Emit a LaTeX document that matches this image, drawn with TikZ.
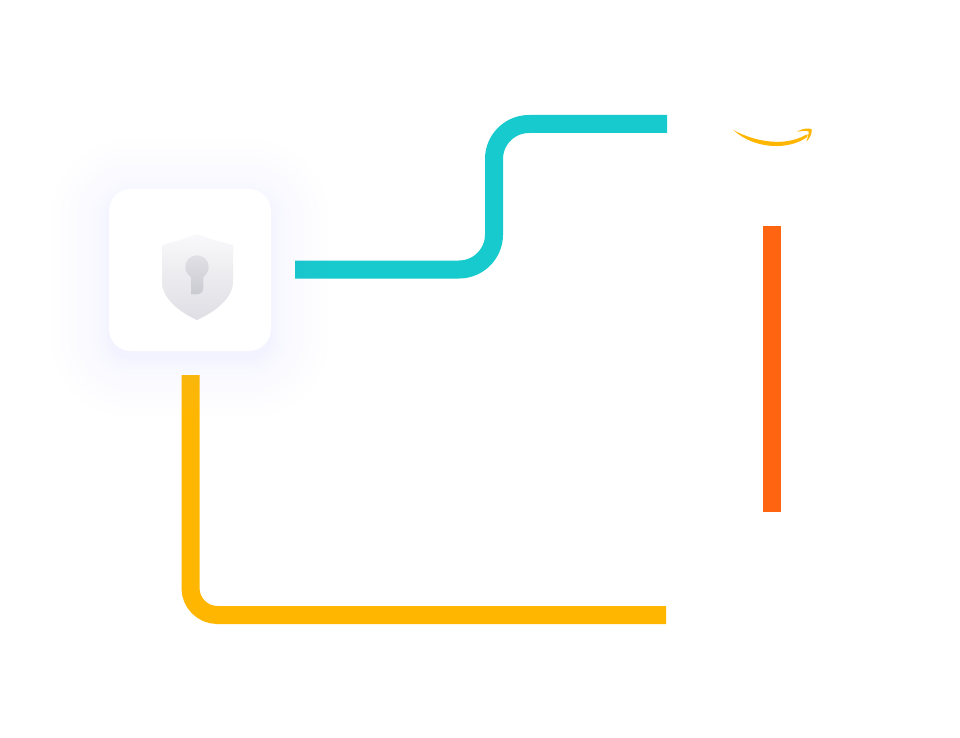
\documentclass[tikz,border=0pt]{standalone}
\usepackage{xcolor}
\usetikzlibrary{calc}
\definecolor{cTeal}{HTML}{16CACD}
\definecolor{cAmber}{HTML}{FFB600}
\definecolor{cOrange}{HTML}{FF6411}
\definecolor{cGlow}{HTML}{B4B6FF}
\definecolor{cShieldTop}{HTML}{F9F9FB}
\definecolor{cShieldBottom}{HTML}{DEDEE4}
\definecolor{cKeyTop}{HTML}{E0E0E5}
\definecolor{cKeyBottom}{HTML}{CACAD1}
\tikzstyle{tsLine} = [
    line width=13.5pt,
    line cap=butt
]
\tikzstyle{tsGlow} = [
    rectangle,
    fill=cGlow,
    opacity=0.01,
    inner sep=0pt
]
\tikzstyle{tsCard} = [
    rectangle,
    fill=white,
    inner sep=0pt,
    minimum size=121.5pt,
    rounded corners=16.5pt
]

\begin{document}
\begin{tikzpicture}[x=0.75pt, y=-0.75pt]
        \useasboundingbox[fill=white] (0,0) rectangle (960,738);

        % Define coordinates
        \coordinate (tealStart) at (295,269.5);
        \coordinate (tealLow) at (494,269.5);
        \coordinate (tealHigh) at (494,124);
        \coordinate (tealEnd) at (667,124);
        \coordinate (amberStart) at (190.5,375);
        \coordinate (amberLow) at (190.5,615);
        \coordinate (amberEnd) at (666,615);
        \coordinate (orangeTop) at (772,226);
        \coordinate (orangeBottom) at (772,512);

        \draw[tsLine, cTeal, rounded corners=26.25pt] (tealStart) -- (tealLow) -- (tealHigh) -- (tealEnd);
        \draw[tsLine, cAmber, rounded corners=20.25pt] (amberStart) -- (amberLow) -- (amberEnd);
        \draw[tsLine, cOrange] (orangeTop) -- (orangeBottom);

        % soft glow behind the card
        \foreach \r in {1,...,12} {
            \node[tsGlow, minimum size=121.5pt+\r*\r*0.6pt, rounded corners=16.5pt+\r*\r*0.3pt] (glow\r) at (190,278) {};
        }
        \node[tsCard] (card) at (190,270) {};

        % shield with keyhole
        \shade[top color=cShieldTop, bottom color=cShieldBottom]
            (197,234) .. controls (185,239) and (173,242) .. (162,245)
            -- (162,282) .. controls (162,298) and (179,312) .. (197,320)
            .. controls (215,312) and (233,298) .. (233,282)
            -- (233,245) .. controls (221,242) and (209,239) .. (197,234) -- cycle;
        \shade[top color=cKeyTop, bottom color=cKeyBottom]
            (191,277) .. controls (187.5,274.5) and (185.3,271) .. (185.3,267)
            .. controls (185.3,260.5) and (190.5,255.3) .. (197,255.3)
            .. controls (203.5,255.3) and (208.7,260.5) .. (208.7,267)
            .. controls (208.7,271) and (206.5,274.5) .. (203.3,277)
            -- (203.3,288) .. controls (203.3,291.5) and (200.5,294.3) .. (197,294.3)
            -- (191,294.3) -- cycle;

        % swoosh
        \fill[cAmber]
            (733.3,130) .. controls (755,142) and (785,147) .. (806,134.8)
            .. controls (808,133.5) and (808.5,135) .. (807,137)
            .. controls (790,150) and (755,150) .. (733.3,130) -- cycle;
        \fill[cAmber]
            (797,131.7) .. controls (802,128.5) and (808,128) .. (811.5,129)
            .. controls (812.5,133) and (810,138) .. (806.3,141.7)
            .. controls (807.5,138) and (809,134) .. (808.5,131.3)
            .. controls (805,130.5) and (801,131) .. (797,131.7) -- cycle;
    \end{tikzpicture}
\end{document}
